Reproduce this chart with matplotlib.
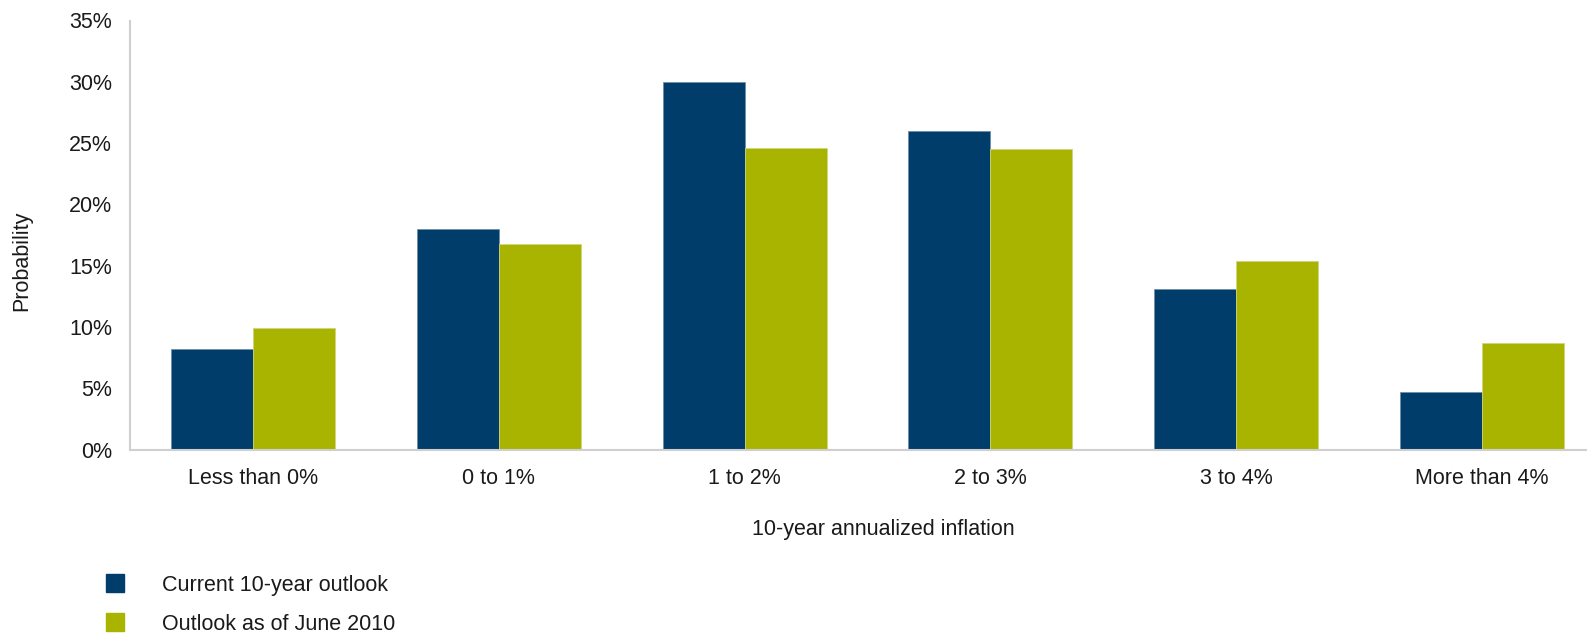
import numpy as np
import matplotlib.pyplot as plt
from matplotlib.patches import Rectangle
from matplotlib.ticker import FuncFormatter

plt.rcParams['font.family'] = ['Liberation Sans', 'DejaVu Sans']

categories = ['Less than 0%', '0 to 1%', '1 to 2%', '2 to 3%', '3 to 4%', 'More than 4%']
current_outlook = [8.2, 18.0, 30.0, 26.0, 13.1, 4.7]
june_2010_outlook = [9.9, 16.8, 24.6, 24.5, 15.4, 8.7]
series_names = ['Current 10-year outlook', 'Outlook as of June 2010']
colors = ['#003D6A', '#A9B400']

FS = 15.5
TXT = '#1a1a1a'

W, H = 1587, 633
fig = plt.figure(figsize=(W / 100, H / 100), dpi=100)
# axes run slightly past the right edge of the figure
ax = fig.add_axes([130 / W, 183.5 / H, 1475 / W, 429 / H])

x = np.arange(len(categories))
width = 1 / 3
ax.bar(x - width / 2, current_outlook, width, color=colors[0], edgecolor='#6F8FAA', linewidth=0.6)
ax.bar(x + width / 2, june_2010_outlook, width, color=colors[1], edgecolor='#CED57A', linewidth=0.6)

ax.set_xlim(-0.5, len(categories) - 0.5)
ax.set_ylim(0, 35)
ax.set_yticks(np.arange(0, 36, 5))
ax.yaxis.set_major_formatter(FuncFormatter(lambda v, p: f'{v:.0f}%'))
ax.set_xticks(x)
ax.set_xticklabels(categories)
ax.tick_params(length=0, labelsize=FS, colors=TXT)
ax.tick_params(axis='y', pad=13)
ax.tick_params(axis='x', pad=13)

for side in ['top', 'right']:
    ax.spines[side].set_visible(False)
for side in ['left', 'bottom']:
    ax.spines[side].set_color('#D0CECE')
    ax.spines[side].set_linewidth(1.5)

fig.text(22 / W, 1 - 261 / H, 'Probability', rotation=90, ha='center', va='center',
         fontsize=FS, color=TXT)
fig.text(883 / W, 1 - 529 / H, '10-year annualized inflation', ha='center', va='center',
         fontsize=FS, color=TXT)

# legend drawn by hand: square swatches with labels offset to the right
for i, (name, c) in enumerate(zip(series_names, colors)):
    yc = 583 + i * 39
    fig.patches.append(Rectangle((106 / W, 1 - (yc + 9) / H), 18 / W, 18 / H,
                                 transform=fig.transFigure, color=c))
    fig.text(162 / W, 1 - (yc + 3) / H, name, ha='left', va='center', fontsize=FS, color=TXT)

fig.savefig('out.png', dpi=100)
